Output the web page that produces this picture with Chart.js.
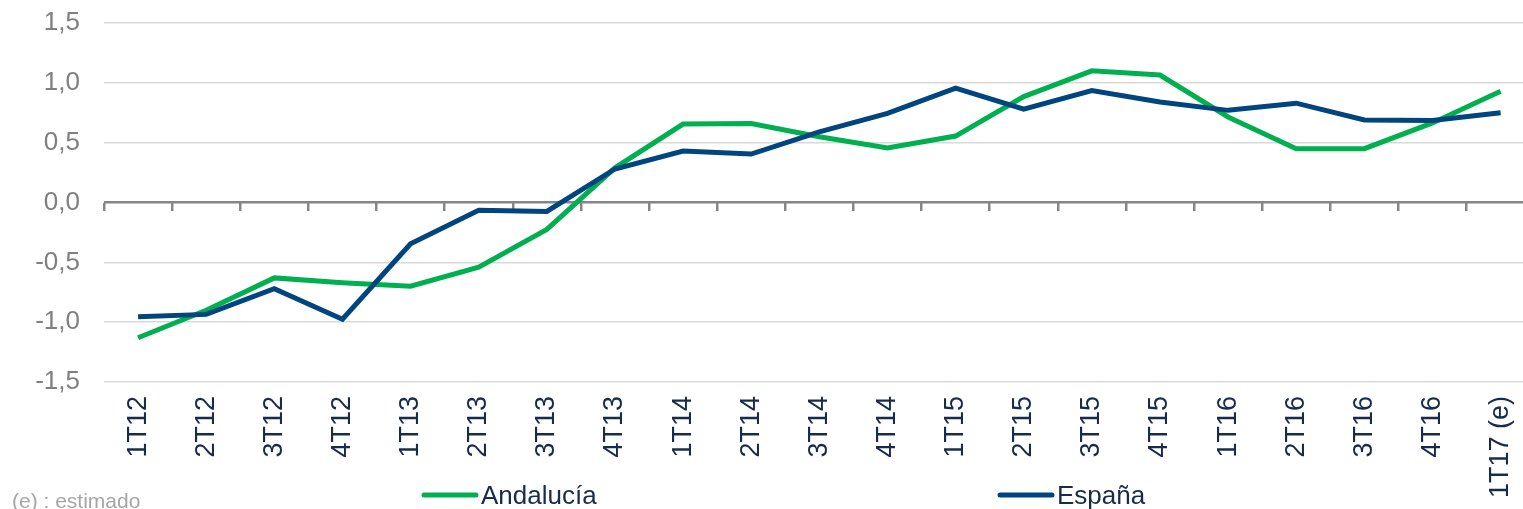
<!DOCTYPE html>
<html>
<head>
<meta charset="utf-8">
<script src="https://cdn.jsdelivr.net/npm/chart.js@4.4.1/dist/chart.umd.min.js"></script>
<style>
  html, body { margin: 0; padding: 0; background: #fff; overflow: hidden; }
  #wrap { width: 1547px; height: 509px; }
</style>
</head>
<body>
<div id="wrap"><canvas id="pib" width="1547" height="509"></canvas></div>
<script>
// trimestres
const quarters = [
  "1T12", "2T12", "3T12", "4T12",
  "1T13", "2T13", "3T13", "4T13",
  "1T14", "2T14", "3T14", "4T14",
  "1T15", "2T15", "3T15", "4T15",
  "1T16", "2T16", "3T16", "4T16",
  "1T17 (e)",
];

// tasas (%)
const andalucia = [
  -1.13, -0.90, -0.63, -0.67,
  -0.70, -0.54, -0.225, 0.29,
  0.655, 0.66, 0.55, 0.455,
  0.555, 0.885, 1.10, 1.065,
  0.715, 0.45, 0.45, 0.665,
  0.93,
];
const espana = [
  -0.955, -0.935, -0.72, -0.975,
  -0.345, -0.065, -0.075, 0.28,
  0.43, 0.405, 0.59, 0.745,
  0.955, 0.78, 0.935, 0.84,
  0.77, 0.83, 0.69, 0.685,
  0.75,
];

const yMin = -1.5, yMax = 1.5, yStep = 0.5;

const GREEN = "#00b050";
const NAVY = "#00457f";
const TEXT = "#172b4d";

// leyenda y nota dibujadas a mano (posiciones como en el original)
const legendPlugin = {
  id: "legendaManual",
  afterDraw(chart) {
    const c = chart.ctx;
    const spots = [422, 998];
    c.save();
    chart.data.datasets.forEach((ds, i) => {
      const x = spots[i];
      c.strokeStyle = ds.borderColor;
      c.lineWidth = 5;
      c.lineCap = "round";
      c.beginPath();
      c.moveTo(x + 2, 495);
      c.lineTo(x + 54, 495);
      c.stroke();
      c.fillStyle = TEXT;
      c.font = "26px Arial, 'Liberation Sans'";
      c.textBaseline = "alphabetic";
      c.fillText(ds.label, x + 59, 504);
    });
    c.fillStyle = "#a6a6a6";
    c.font = "21px Arial, 'Liberation Sans'";
    c.fillText("(e) : estimado", 12, 508);
    c.restore();
  },
};

const ctx = document.getElementById("pib").getContext("2d");
new Chart(ctx, {
  type: "line",
  data: {
    labels: quarters,
    datasets: [
      {
        label: "Andalucía",
        data: andalucia,
        borderColor: GREEN,
        backgroundColor: GREEN,
        borderWidth: 5,
        pointRadius: 0,
        tension: 0,
        order: 1,
      },
      {
        label: "España",
        data: espana,
        borderColor: NAVY,
        backgroundColor: NAVY,
        borderWidth: 5,
        pointRadius: 0,
        tension: 0,
        order: 0,
      },
    ],
  },
  options: {
    responsive: false,
    animation: false,
    devicePixelRatio: 1,
    layout: { padding: { top: 23, left: 0, right: 0, bottom: 0 } },
    plugins: {
      legend: { display: false },
      tooltip: { enabled: false },
    },
    scales: {
      y: {
        min: yMin,
        max: yMax,
        ticks: {
          stepSize: yStep,
          color: "#7f7f7f",
          font: { family: "Arial, 'Liberation Sans'", size: 26 },
          padding: 24,
          callback: (v) => v.toFixed(1).replace(".", ","),
        },
        grid: {
          drawTicks: false,
          color: (c) => (c.tick && c.tick.value === 0 ? "#868686" : "#d9d9d9"),
          lineWidth: (c) => (c.tick && c.tick.value === 0 ? 2.5 : 1.5),
        },
        border: { display: false },
        afterFit: (s) => {
          s.width = 104;
          s.paddingTop = 0;
          s.paddingBottom = 0;
        },
      },
      x: {
        type: "category",
        offset: true,
        grid: { display: false, drawTicks: false },
        border: { display: false },
        ticks: {
          autoSkip: false,
          minRotation: 90,
          maxRotation: 90,
          padding: 14,
          color: TEXT,
          font: { family: "Arial, 'Liberation Sans'", size: 27 },
        },
        afterFit: (s) => { s.height = 127; },
      },
      // eje auxiliar sobre el cero: solo las marcas
      x0: {
        type: "category",
        axis: "x",
        position: { y: 0 },
        offset: true,
        grid: {
          offset: true,
          drawOnChartArea: false,
          drawTicks: true,
          tickLength: 8,
          color: "#868686",
          lineWidth: 2.5,
        },
        border: { display: false },
        ticks: { display: false },
      },
    },
  },
  plugins: [legendPlugin],
});
</script>
</body>
</html>
